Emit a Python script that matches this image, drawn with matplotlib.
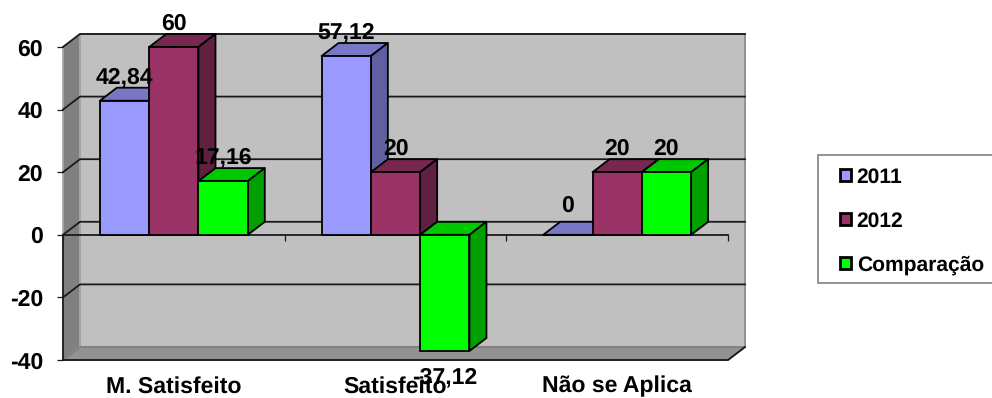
import matplotlib
matplotlib.use("Agg")
import matplotlib.pyplot as plt
from matplotlib.patches import Polygon, Patch, Rectangle

plt.rcParams['font.family'] = ['Liberation Sans', 'DejaVu Sans']
plt.rcParams['font.weight'] = 'bold'
plt.rcParams['text.hinting'] = 'no_hinting'
plt.rcParams['text.hinting_factor'] = 1

categories = ["M. Satisfeito", "Satisfeito", "Não se Aplica"]
series_names = ["2011", "2012", "Comparação"]
values_2011 = [42.84, 57.12, 0]
values_2012 = [60, 20, 20]
values_comp = [17.16, -37.12, 20]
y_ticks = [-40, -20, 0, 20, 40, 60]

# front, top and side faces for each series
faces = [("#9999FF", "#7777C6", "#6060A0"),
         ("#993366", "#772850", "#602040"),
         ("#00FF00", "#00C800", "#00A000")]

W, H = 992, 398
fig = plt.figure(figsize=(W / 100, H / 100), dpi=100, facecolor="white")
ax = fig.add_axes([63 / W, 1 - 360 / H, 665 / W, 313 / H])
ax.set_xlim(0, 3)
ax.set_ylim(-40, 60)
ax.patch.set_visible(False)

# depth of the fake 3d box, in data units
dx = 17 / (665 / 3)
dy = 13 / (313 / 100)
bar_w = 49.3 / (665 / 3)
lw = 1.3
dark = "#1a1a1a"
font_size = 16.5


def poly(pts, fc, ec="black", z=4, width=lw):
    ax.add_patch(Polygon(pts, closed=True, facecolor=fc, edgecolor=ec, linewidth=width,
                         zorder=z, clip_on=False, joinstyle="round"))


# walls and floor
poly([(dx, -40 + dy), (3 + dx, -40 + dy), (3 + dx, 60 + dy), (dx, 60 + dy)], "#C0C0C0", "#8c8c8c", 0)
poly([(0, -40), (dx, -40 + dy), (dx, 60 + dy), (0, 60)], "#808080", "#a8a8a8", 0.5)
poly([(0, -40), (3, -40), (3 + dx, -40 + dy), (dx, -40 + dy)], "#929292", "#808080", 0.5)

# gridlines run along the back wall and down the side wall
for v in y_ticks[1:]:
    ax.plot([0, dx, 3 + dx], [v, v + dy, v + dy], color=dark, lw=lw, zorder=1, clip_on=False,
            solid_joinstyle="round")
ax.plot([0, 3, 3 + dx], [-40, -40, -40 + dy], color=dark, lw=lw, zorder=1.5, clip_on=False)

for i, vals in enumerate([values_2011, values_2012, values_comp]):
    front, top, side = faces[i]
    xs = [c + (1 - 3 * bar_w) / 2 + i * bar_w for c in range(len(categories))]
    ax.bar(xs, vals, width=bar_w, align="edge", color=front, edgecolor="black", linewidth=lw,
           zorder=4 + i * 0.2, clip_on=False)
    for x, v in zip(xs, vals):
        up = max(v, 0)
        z = 3.9 + i * 0.2
        poly([(x, up), (x + bar_w, up), (x + bar_w + dx, up + dy), (x + dx, up + dy)], top, z=z)
        poly([(x + bar_w, 0), (x + bar_w + dx, dy), (x + bar_w + dx, v + dy), (x + bar_w, v)], side, z=z)
        label = f"{v:g}".replace(".", ",")
        off = -26 if v < 0 else (29 if v == 0 else 23.5)
        ax.annotate(label, (x + bar_w / 2, v), xytext=(0, off * 0.72), textcoords="offset points",
                    ha="center", va="center", fontsize=font_size, zorder=8, annotation_clip=False)

# axes: the category line sits at zero
for s in ["top", "right"]:
    ax.spines[s].set_visible(False)
ax.spines["bottom"].set_position(("data", 0))
ax.spines["bottom"].set_linewidth(lw)
ax.spines["bottom"].set_color(dark)
ax.spines["bottom"].set_zorder(2)
ax.spines["left"].set_bounds(-40, 0)
ax.spines["left"].set_linewidth(lw)
ax.spines["left"].set_color(dark)
ax.spines["left"].set_zorder(2)

ax.set_yticks(y_ticks)
ax.set_yticklabels([str(t) for t in y_ticks], fontsize=font_size, fontweight="bold")
ax.tick_params(axis="y", length=4.5, width=0.9, pad=10, color=dark)
ax.set_xticks([0, 1, 2, 3])
ax.set_xticklabels([])
ax.tick_params(axis="x", which="major", length=4.5, width=0.9, direction="out", color=dark)
ax.set_xticks([0.5, 1.5, 2.5], minor=True)
ax.set_xticklabels(categories, minor=True, fontsize=font_size, fontweight="bold")
ax.tick_params(axis="x", which="minor", length=0, pad=101.5)

# legend box runs off the right side of the figure
fig.add_artist(Rectangle((818 / W, 1 - 283 / H), 180 / W, 128 / H, transform=fig.transFigure,
                         facecolor="white", edgecolor="#808080", linewidth=1.2))
handles = [Patch(facecolor=f[0], edgecolor="black", linewidth=2) for f in faces]
fig.legend(handles, series_names, loc="upper left", bbox_to_anchor=(840 / W, 1 - 167.5 / H),
           frameon=False, borderpad=0, borderaxespad=0, handlelength=0.52, handleheight=0.52,
           handletextpad=0.27, labelspacing=1.15, prop={"size": 15.2, "weight": "bold"})

fig.savefig("out.png", dpi=100)
